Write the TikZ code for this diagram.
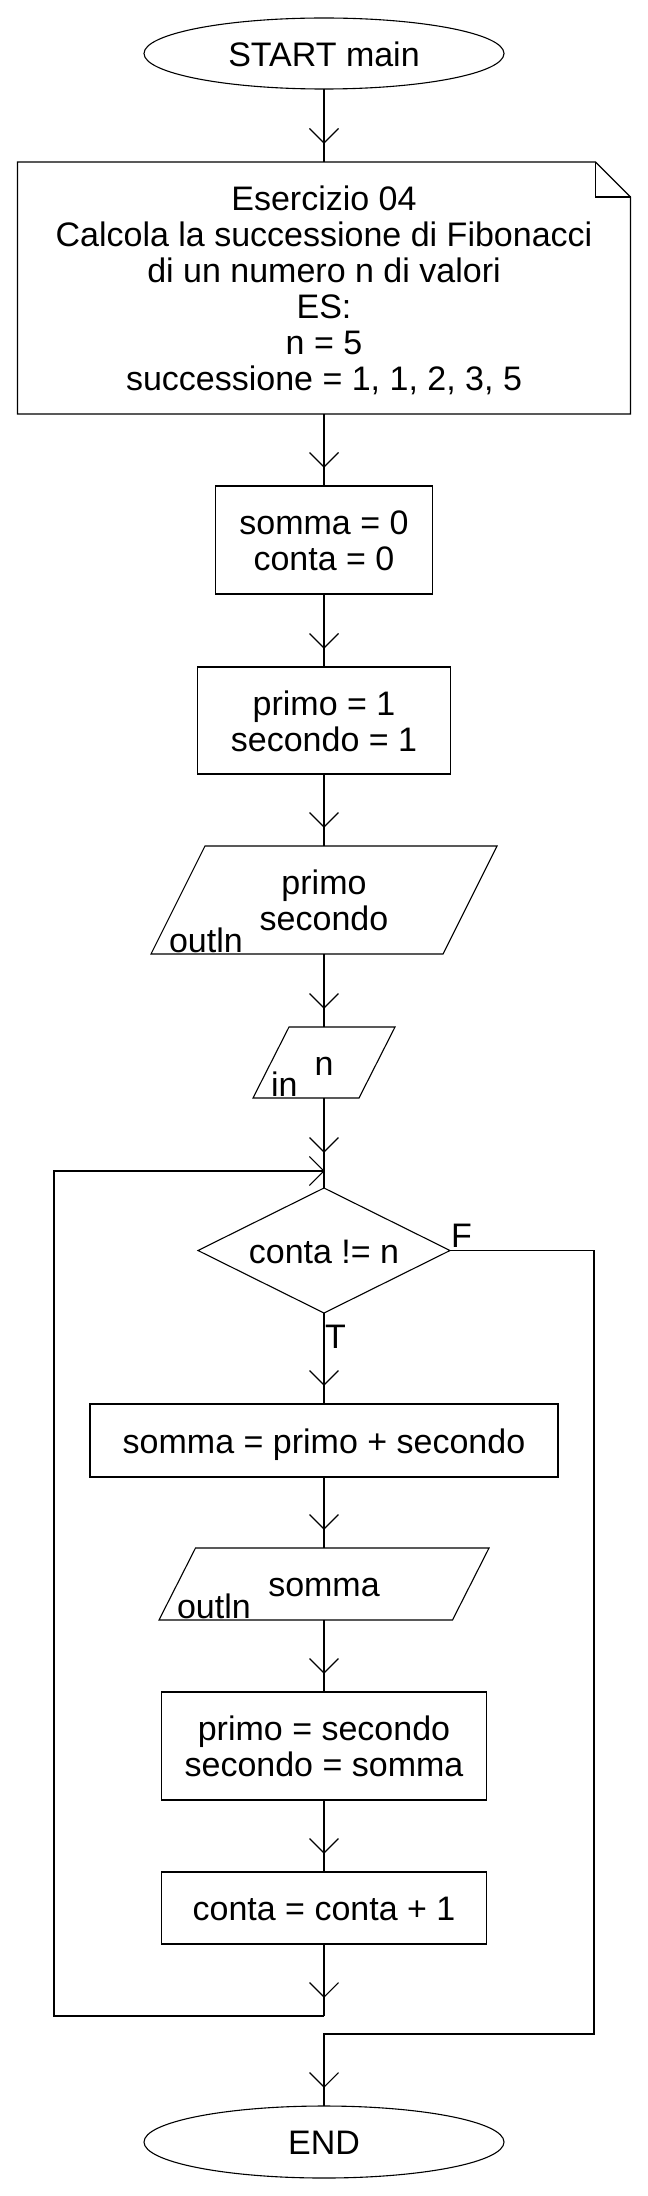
\documentclass[tikz,border=0pt]{standalone}
\usepackage{fontspec}
\setmainfont{Liberation Sans}
\usetikzlibrary{shapes.geometric,decorations.markings}
\newcommand\mlines[1]{\begin{tabular}[b]{@{}c@{}}#1\end{tabular}}
\begin{document}
\begin{tikzpicture}[x=1bp,y=-1bp,
  font=\fontsize{34bp}{36bp}\selectfont,
  every node/.style={inner sep=0pt, outer sep=0pt, text depth=0pt},
  lw/.style={line width=1.1bp, line cap=butt},
  term/.style={ellipse, draw, lw, minimum width=360bp, minimum height=71bp},
  procbox/.style={rectangle, draw, lw},
  iobox/.style={rectangle},
  dec/.style={diamond, draw, lw, aspect=2, minimum width=252bp, minimum height=125bp},
  lbl/.style={anchor=base west},
  arr/.style={lw, postaction={decorate}, decoration={markings,
     mark=at position -19bp with {\draw[lw] (-14.5bp,14.5bp) -- (0bp,0bp) -- (-14.5bp,-14.5bp);}}},
  arrend/.style={lw, postaction={decorate}, decoration={markings,
     mark=at position -0.05bp with {\draw[lw] (-14.5bp,14.5bp) -- (0bp,0bp) -- (-14.5bp,-14.5bp);}}}
]
\fill[white] (0,0) rectangle (648,2196);
\useasboundingbox (0,0) rectangle (648,2196);

% nodes
\node[term] (start) at (324,53.5) {\mlines{START main}};

\node[iobox, minimum width=613bp, minimum height=252bp] (cmt) at (324,288)
  {\mlines{Esercizio 04\\Calcola la successione di Fibonacci\\di un numero n di valori\\ES:\\n = 5\\successione = 1, 1, 2, 3, 5}};
\draw[lw] (cmt.north west) -- ([xshift=-35bp]cmt.north east) -- ([yshift=-35bp]cmt.north east)
  -- (cmt.south east) -- (cmt.south west) -- cycle;
\draw[lw] ([xshift=-35bp]cmt.north east) |- ([yshift=-35bp]cmt.north east);

\node[procbox, minimum width=217bp, minimum height=108bp] (b1) at (324,540) {\mlines{somma = 0\\conta = 0}};
\node[procbox, minimum width=253bp, minimum height=107bp] (b2) at (324,720.5) {\mlines{primo = 1\\secondo = 1}};

\node[iobox, minimum width=346bp, minimum height=108bp] (p1) at (324,900) {\mlines{primo\\secondo}};
\draw[lw] ([xshift=54bp]p1.north west) -- (p1.north east) -- ([xshift=-54bp]p1.south east) -- (p1.south west) -- cycle;
\node[lbl] (o1) at ([xshift=18bp,yshift=1.5bp]p1.south west) {outln};

\node[iobox, minimum width=142bp, minimum height=71bp] (p2) at (324,1062.5) {\mlines{n}};
\draw[lw] ([xshift=36bp]p2.north west) -- (p2.north east) -- ([xshift=-36bp]p2.south east) -- (p2.south west) -- cycle;
\node[lbl] (i2) at ([xshift=18bp,yshift=1.5bp]p2.south west) {in};

\node[dec] (dia) at (324,1250.5) {\mlines{conta != n}};
\node[lbl] (tl) at ([xshift=1bp,yshift=-35bp]dia.south) {T};
\node[lbl] (fl) at ([xshift=1bp,yshift=3bp]dia.east) {F};

\node[procbox, minimum width=468bp, minimum height=73bp] (b3) at (324,1440.5) {\mlines{somma = primo + secondo}};

\node[iobox, minimum width=330bp, minimum height=72bp] (p3) at (324,1584) {\mlines{somma}};
\draw[lw] ([xshift=36.5bp]p3.north west) -- (p3.north east) -- ([xshift=-36.5bp]p3.south east) -- (p3.south west) -- cycle;
\node[lbl] (o3) at ([xshift=18bp,yshift=1.5bp]p3.south west) {outln};

\node[procbox, minimum width=325bp, minimum height=108bp] (b4) at (324,1746) {\mlines{primo = secondo\\secondo = somma}};
\node[procbox, minimum width=325bp, minimum height=72bp] (b5) at (324,1908) {\mlines{conta = conta + 1}};

\node[term, minimum height=72bp] (end) at (324,2142) {\mlines{END}};

% junctions
\coordinate (J) at (324,1171);
\coordinate (L1) at (324,2016);
\coordinate (LL) at (54,2016);
\coordinate (L2) at (324,2034);
\coordinate (FR) at (594,2034);

% connectors
\draw[arr] (start.south) -- (cmt.north);
\draw[arr] (cmt.south) -- (b1.north);
\draw[arr] (b1.south) -- (b2.north);
\draw[arr] (b2.south) -- (p1.north);
\draw[arr] (p1.south) -- (p2.north);
\draw[arr] (p2.south) -- (J);
\draw[lw] (J) -- (dia.north);
\draw[arr] (dia.south) -- (b3.north);
\draw[arr] (b3.south) -- (p3.north);
\draw[arr] (p3.south) -- (b4.north);
\draw[arr] (b4.south) -- (b5.north);
\draw[arr] (b5.south) -- (L1);
\draw[arrend] (L1) -- (LL) |- (J);
\draw[arr] (dia.east) -| (FR) -- (L2) -- (end.north);
\end{tikzpicture}
\end{document}
